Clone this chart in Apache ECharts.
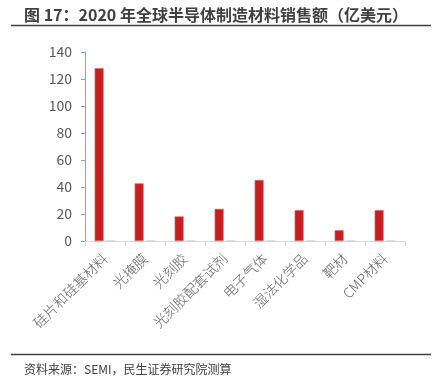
<!DOCTYPE html>
<html><head><meta charset="utf-8">
<script src="https://cdn.jsdelivr.net/npm/echarts@6/dist/echarts.min.js"></script>
<style>html,body{margin:0;padding:0;background:#fff}#c{width:438px;height:382px}</style>
</head><body><div id="c"></div>
<script>
const categories = ['硅片和硅基材料','光掩膜','光刻胶','光刻胶配套试剂','电子气体','湿法化学品','靶材','CMP材料'];
const salesValues = [128, 42.7, 18.2, 23.8, 45.2, 22.9, 8.0, 22.9];
const minorValues = [0.6, 0.6, 0.6, 0.6, 0.6, 0.6, 0.6, 0.6];
const yTicks = {min: 0, max: 140, interval: 20};
const titleText = '图 17：2020 年全球半导体制造材料销售额（亿美元）';
const sourceText = '资料来源：SEMI，民生证券研究院测算';

const chart = echarts.init(document.getElementById('c'), null, {renderer: 'canvas'});
chart.setOption({
  animation: false,
  backgroundColor: '#fff',
  title: [{
    text: titleText, left: 19, top: 2,
    textStyle: {fontSize: 16, fontWeight: 'bold', color: '#404040', fontFamily: 'Noto Sans CJK SC'}
  }, {
    text: sourceText, left: 19, top: 358,
    textStyle: {fontSize: 12, fontWeight: 'normal', color: '#404040', fontFamily: 'Noto Sans CJK SC'}
  }],
  graphic: [
    {type: 'line', shape: {x1: 11, y1: 25.5, x2: 431, y2: 25.5}, style: {stroke: '#404040', lineWidth: 1.3}},
    {type: 'line', shape: {x1: 11, y1: 354.5, x2: 431, y2: 354.5}, style: {stroke: '#404040', lineWidth: 1.3}}
  ],
  grid: {left: 85, right: 33, top: 52, bottom: 141},
  xAxis: {
    type: 'category', data: categories,
    axisLine: {lineStyle: {color: '#d9d9d9', width: 1}},
    axisTick: {show: true, alignWithLabel: false, length: 5, lineStyle: {color: '#d9d9d9'}},
    axisLabel: {rotate: 45, interval: 0, margin: 15, fontSize: 14, color: '#666666', fontFamily: 'Noto Sans CJK SC', fontWeight: 300}
  },
  yAxis: {
    type: 'value', min: yTicks.min, max: yTicks.max, interval: yTicks.interval,
    axisLine: {show: true, lineStyle: {color: '#7aa6d8', width: 1}},
    axisTick: {show: true, length: 4, lineStyle: {color: '#7aa6d8'}},
    splitLine: {show: false},
    axisLabel: {fontSize: 14, color: '#595959', margin: 13, fontFamily: 'Noto Sans CJK SC'}
  },
  series: [{
    type: 'bar', data: salesValues, barWidth: 9, barGap: '30%',
    itemStyle: {color: '#c81e22', borderColor: '#e06666', borderWidth: 0.6}
  }, {
    type: 'bar', data: minorValues, barWidth: 9,
    itemStyle: {color: '#d4d4d4'}
  }]
});
</script></body></html>
